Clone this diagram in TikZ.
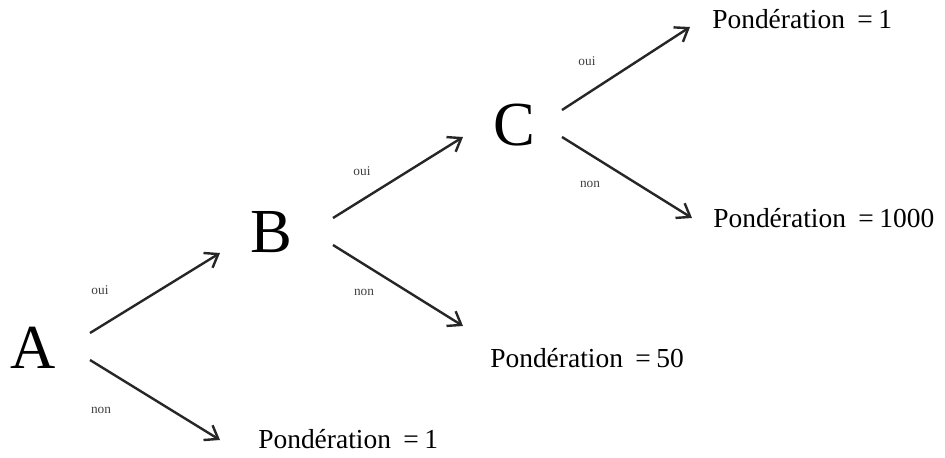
\documentclass[tikz,border=0pt]{standalone}
\usepackage{fontspec}
\setmainfont{Liberation Serif}
\usetikzlibrary{arrows.meta}
\begin{document}
\begin{tikzpicture}[x=0.75pt,y=-0.75pt,
  letter/.style={font=\fontsize{47}{50}\selectfont,inner sep=0pt,anchor=base},
  result/.style={font=\fontsize{20.6}{22}\selectfont,inner sep=0pt,anchor=base west},
  tag/.style={font=\fontsize{10}{11}\selectfont,inner sep=0pt,text=black!75},
  arr/.style={line width=1.8pt,black!85,-{Straight Barb[length=9pt,width=13pt,line width=1.8pt]}}]
\useasboundingbox[fill=white] (0,0) rectangle (945,457);
% main letters
\node[letter] (A) at (33,368) {A};
\node[letter] (B) at (271,252) {B};
\node[letter] (C) at (514,145) {C};
% results
\newcommand{\pond}[1]{Pondération\hspace{0.45em}=\hspace{0.2em}#1}
\node[result] (R1) at (258,448) {\pond{1}};
\node[result] (R50) at (490,367) {\pond{50}};
\node[result] (R1000) at (713,227) {\pond{1000}};
\node[result] (Rtop) at (712,28) {\pond{1}};
% connector ends
\coordinate (Ao) at (90,333);  \coordinate (Bi) at (220,253);
\coordinate (An) at (90,360);  \coordinate (R1i) at (220,440);
\coordinate (Bo) at (333,218); \coordinate (Ci) at (463,137);
\coordinate (Bn) at (333,245); \coordinate (R50i) at (463,326);
\coordinate (Co) at (562,110); \coordinate (Rtopi) at (690,27);
\coordinate (Cn) at (562,137); \coordinate (R1000i) at (692,218);
% arrows
\draw[arr] (Ao) -- (Bi);
\draw[arr] (An) -- (R1i);
\draw[arr] (Bo) -- (Ci);
\draw[arr] (Bn) -- (R50i);
\draw[arr] (Co) -- (Rtopi);
\draw[arr] (Cn) -- (R1000i);
% labels
\node[tag] (lAo) at (100,290) {oui};
\node[tag] (lAn) at (101,410) {non};
\node[tag] (lBo) at (362,171) {oui};
\node[tag] (lBn) at (364,292) {non};
\node[tag] (lCo) at (587,61) {oui};
\node[tag] (lCn) at (590,184) {non};
\end{tikzpicture}
\end{document}
